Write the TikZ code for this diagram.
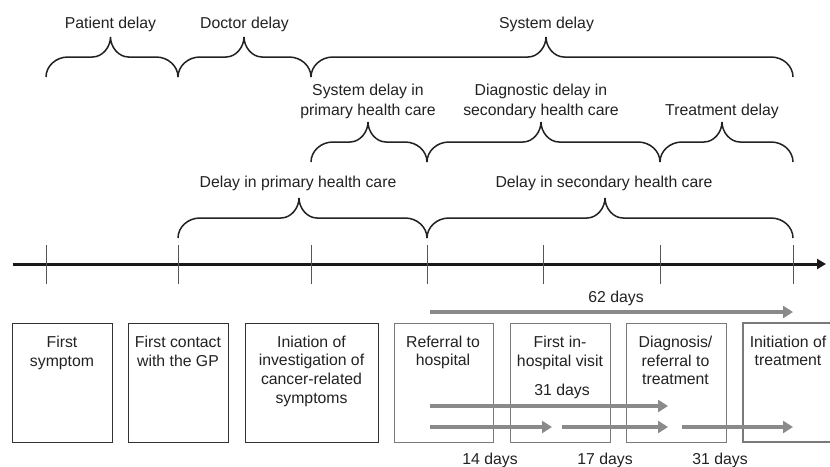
\documentclass[tikz,border=0pt]{standalone}
\usepackage{fontspec}
\setmainfont{Liberation Sans}
\usetikzlibrary{arrows.meta}
\definecolor{ink}{HTML}{222222}
\definecolor{garrow}{HTML}{8A8A8A}
\definecolor{gbox}{HTML}{7A7A7A}
\definecolor{dbox}{HTML}{333333}
\definecolor{tickc}{HTML}{555555}
\newcommand\curlybr[4]{% x1 xm x2 yend
  \draw[bracestyle] (#1,#4) .. controls (#1,{#4-11}) and ({#1+10},{#4-20}) .. ({#1+22},{#4-20})
    -- ({#2-18},{#4-20}) .. controls ({#2-8},{#4-20}) and (#2,{#4-30}) .. (#2,{#4-40})
    .. controls (#2,{#4-30}) and ({#2+8},{#4-20}) .. ({#2+18},{#4-20})
    -- ({#3-22},{#4-20}) .. controls ({#3-10},{#4-20}) and (#3,{#4-11}) .. (#3,#4);}
\begin{document}
\begin{tikzpicture}[x=1pt,y=-1pt,
  lbl/.style={text=ink,inner sep=0pt,font=\fontsize{15.8}{20}\selectfont},
  boxtxt/.style={text=ink,inner sep=0pt,align=center,anchor=north,font=\fontsize{15.8}{18.8}\selectfont},
  bracestyle/.style={draw=ink,line width=1.5pt},
  tickline/.style={draw=tickc,line width=1pt},
  axisline/.style={draw=black!90,line width=3pt,-{Triangle[length=9pt,width=10pt]}},
  darkbox/.style={draw=dbox,line width=1.3pt,minimum width=100pt,minimum height=119pt,anchor=north west,inner sep=0pt},
  graybox/.style={draw=gbox,line width=1.1pt,minimum width=100pt,minimum height=119pt,anchor=north west,inner sep=0pt},
  grayarrow/.style={draw=garrow,line width=4.5pt,-{Triangle[length=10pt,width=12pt]}}]
\fill[white] (0,0) rectangle (830,466);
\useasboundingbox (0,0) rectangle (830,466);

% ---- braces
\curlybr{46}{110.5}{178}{77}
\curlybr{178}{244}{311}{77}
\curlybr{311}{546}{793}{77}
\curlybr{311}{368}{427}{162}
\curlybr{427}{541}{660}{162}
\curlybr{660}{722}{793}{162}
\curlybr{178}{299}{427}{238}
\curlybr{427}{605}{793}{238}

% ---- brace labels
\node[lbl,anchor=base] (pd) at (110.5,28) {Patient delay};
\node[lbl,anchor=base] (dd) at (244.5,28) {Doctor delay};
\node[lbl,anchor=base] (sd) at (546.5,28) {System delay};
\node[lbl,align=center,anchor=north] (sdp) at (368,83.7) {System delay in\\primary health care};
\node[lbl,align=center,anchor=north] (dds) at (541,83.7) {Diagnostic delay in\\secondary health care};
\node[lbl,anchor=base] (td) at (722,115) {Treatment delay};
\node[lbl,anchor=base] (dp) at (298,187) {Delay in primary health care};
\node[lbl,anchor=base] (ds) at (604,187) {Delay in secondary health care};

% ---- axis and ticks
\coordinate (axs) at (12.5,264);
\coordinate (axe) at (826,264);
\draw[axisline] (axs) -- (axe);
\foreach \x in {46,178,311,427,543.5,660,793}
  \draw[tickline] (\x,245) -- (\x,284);

% ---- boxes
\node[darkbox] (b1) at (12,323) {};
\node[darkbox] (b2) at (128,323) {};
\node[darkbox,minimum width=133pt] (b3) at (245,323) {};
\node[graybox,minimum width=99pt] (b4) at (394,323) {};
\node[graybox] (b5) at (510,323) {};
\node[graybox] (b6) at (626,323) {};
\draw[draw=gbox,line width=1.1pt] (830,323) -- (743,323) -- (743,442) -- (830,442);

\node[boxtxt] (t1) at (62,335.7) {First\\symptom};
\node[boxtxt] (t2) at (178,335.7) {First contact\\with the GP};
\node[boxtxt] (t3) at (311.5,335.5) {Iniation of\\investigation of\\cancer-related\\symptoms};
\node[boxtxt] (t4) at (443,335.5) {Referral to\\hospital};
\node[boxtxt] (t5) at (560,335.7) {First in-\\hospital visit};
\node[boxtxt] (t6) at (675.5,335.7) {Diagnosis/\\referral to\\treatment};
\node[boxtxt] (t7) at (788,335.5) {Initiation of\\treatment};

% ---- gray arrows
\coordinate (a62s) at (430,312);  \coordinate (a62e) at (793,312);
\coordinate (a31s) at (430,406);  \coordinate (a31e) at (668,406);
\coordinate (a14s) at (430,427);  \coordinate (a14e) at (552,427);
\coordinate (a17s) at (562,427);  \coordinate (a17e) at (668,427);
\coordinate (a31bs) at (682,427); \coordinate (a31be) at (793,427);
\draw[grayarrow] (a62s) -- (a62e);
\draw[grayarrow] (a31s) -- (a31e);
\draw[grayarrow] (a14s) -- (a14e);
\draw[grayarrow] (a17s) -- (a17e);
\draw[grayarrow] (a31bs) -- (a31be);

\node[lbl,anchor=base] (l62) at (616,302) {62 days};
\node[lbl,anchor=base] (l31) at (562,395) {31 days};
\node[lbl,anchor=base] (l14) at (490,464) {14 days};
\node[lbl,anchor=base] (l17) at (605,464) {17 days};
\node[lbl,anchor=base] (l31b) at (720,464) {31 days};
\end{tikzpicture}
\end{document}
